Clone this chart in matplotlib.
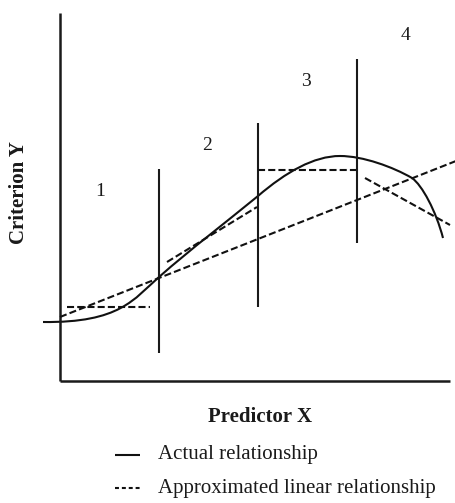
"""
Criterion Y vs Predictor X: actual (curvilinear) relationship and
piecewise linear approximations over four predictor ranges.
"""

import matplotlib.pyplot as plt
from matplotlib.path import Path
from matplotlib.patches import PathPatch

plt.rcParams["font.family"] = ["Liberation Serif", "DejaVu Serif"]

# --- data (origin at the axes corner, y up)
# actual relationship as cubic Bezier pieces: start, then (c1, c2, end) triples
curve_start = (-17, 59)
curve_pieces = [
    ((60, 58), (74, 82), (99, 104)),
    ((132, 133), (165, 158), (198, 185)),
    ((226, 209), (254, 225), (280, 225)),
    ((303, 225), (333, 214), (352, 203)),
    ((362, 196), (376, 170), (383, 143)),
]

# approximated linear relationships: (x0, y0, x1, y1)
overall_line = (0, 64, 396, 220)
segment_lines = [
    (7, 74, 90, 74),
    (107, 119, 197, 174),
    (198, 211, 296, 211),
    (305, 203, 390, 156),
]

# range dividers: x, bottom, top
dividers_x = [99, 198, 297]
dividers_lo = [28, 74, 138]
dividers_hi = [212, 258, 322]

range_labels = ["1", "2", "3", "4"]
range_label_x = [40, 147, 246, 346]
range_label_y = [189, 235, 300, 346]

X_AXIS_LEN, Y_AXIS_LEN = 390, 368

fig = plt.figure(figsize=(4.56, 5.03), dpi=100)
ax = fig.add_axes([0, 0, 1, 1])
ax.set_xlim(-60, 396)
ax.set_ylim(-122, 381)
ax.axis("off")

LW = 1.5
DASH = (0, (3.4, 1.5))
INK = "#1a1a1a"

# axes
ax.plot([0, 0], [0, Y_AXIS_LEN], color=INK, lw=1.8, solid_capstyle="butt")
ax.plot([0, X_AXIS_LEN], [0, 0], color=INK, lw=1.8, solid_capstyle="butt")

# dividers
for x, lo, hi in zip(dividers_x, dividers_lo, dividers_hi):
    ax.plot([x, x], [lo, hi], color=INK, lw=LW, solid_capstyle="butt")

# actual relationship
verts = [curve_start]
codes = [Path.MOVETO]
for c1, c2, end in curve_pieces:
    verts += [c1, c2, end]
    codes += [Path.CURVE4] * 3
ax.add_patch(PathPatch(Path(verts, codes), facecolor="none",
                       edgecolor="#111", lw=LW))

# approximations
x0, y0, x1, y1 = overall_line
ax.plot([x0, x1], [y0, y1], color="#111", lw=LW, linestyle=DASH)
for x0, y0, x1, y1 in segment_lines:
    ax.plot([x0, x1], [y0, y1], color="#111", lw=LW, linestyle=DASH)

for lab, lx, ly in zip(range_labels, range_label_x, range_label_y):
    ax.text(lx, ly, lab, fontsize=14, ha="center", va="center", color=INK)

ax.text(-41, 188, "Criterion Y", fontsize=15, fontweight="bold",
        rotation=90, ha="center", va="center", color=INK)
ax.text(200, -36, "Predictor X", fontsize=15, fontweight="bold",
        ha="center", va="center", color=INK)

# legend (hand placed)
ax.plot([55, 80], [-74, -74], color="#111", lw=LW, solid_capstyle="butt")
ax.text(98, -74, "Actual relationship", fontsize=15, ha="left",
        va="center", color=INK)
ax.plot([55, 80], [-107, -107], color="#111", lw=LW,
        linestyle=(0, (1.9, 1.4)))
ax.text(98, -107, "Approximated linear relationship", fontsize=15,
        ha="left", va="center", color=INK)

fig.savefig("out.png", dpi=100, facecolor="white")
